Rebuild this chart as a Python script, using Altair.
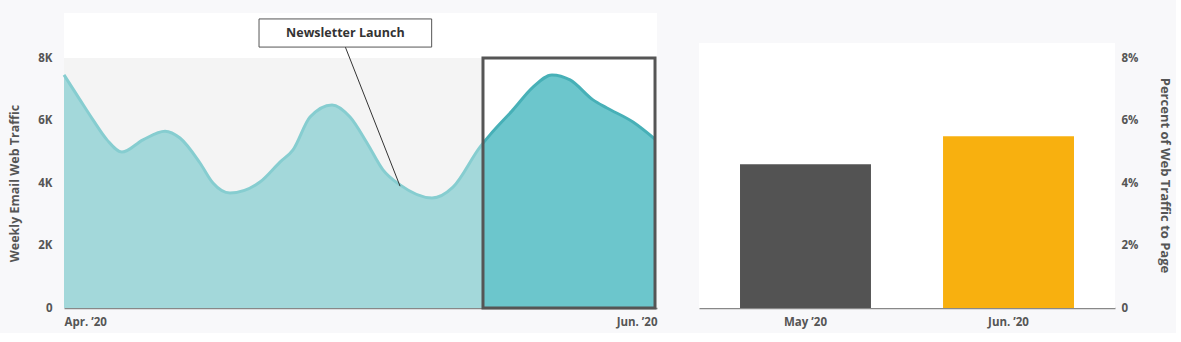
import altair as alt
import pandas as pd

# ---- data ----
days = [0, 2.43, 4.40, 6.53, 8.80, 11.99, 15.33, 17.60, 20.64, 22.61, 25.19, 29.74,
        32.78, 34.76, 37.34, 40.68, 43.41, 45.99, 48.41, 51.0, 55.85, 59.04, 63.13,
        64.65, 68.14, 71.18, 74.06, 76.8, 80.29, 82.41, 86.36, 89.7]
traffic = [7460, 6660, 6020, 5380, 4990, 5380, 5660, 5440, 4640, 4000, 3680, 4030,
           4670, 5060, 6110, 6500, 6110, 5280, 4420, 3940, 3520, 3870, 5150,
           5540, 6340, 7070, 7460, 7300, 6660, 6400, 5950, 5400]
highlight_start = 63.59
highlight_end = 89.7
x_labels = ["Apr. \u201920", "Jun. \u201920"]

months = ["May \u201920", "Jun. \u201920"]
percent = [4.6, 5.5]
bar_colors = ["#535353", "#f8b00f"]

annotation_text = "Newsletter Launch"
ann_box = dict(x=29.6, x2=55.8, y=8350, y2=9250)
ann_text_pos = dict(x=42.7, y=8800)
ann_pointer = dict(x=42.7, y=8350, x2=51.0, y2=3900)

FONT = "Open Sans"
GREY = "#555555"
BG = "#f8f8fa"

df = pd.DataFrame({"day": days, "traffic": traffic})
split = highlight_start / days[-1]

xs = alt.Scale(domain=[0, 90], nice=False, zero=False)
ys = alt.Scale(domain=[0, 9440], nice=False)

area_grad = alt.LinearGradient(
    gradient="linear", x1=0, x2=1, y1=0, y2=0,
    stops=[alt.GradientStop(offset=0, color="#a3d8da"),
           alt.GradientStop(offset=split, color="#a3d8da"),
           alt.GradientStop(offset=split, color="#6cc6cc"),
           alt.GradientStop(offset=1, color="#6cc6cc")])
line_grad = alt.LinearGradient(
    gradient="linear", x1=0, x2=1, y1=0, y2=0,
    stops=[alt.GradientStop(offset=0, color="#86cdd0"),
           alt.GradientStop(offset=split, color="#86cdd0"),
           alt.GradientStop(offset=split, color="#47b0b7"),
           alt.GradientStop(offset=1, color="#47b0b7")])

x_axis = alt.Axis(values=[0, 90], labelExpr=f"datum.value == 0 ? '{x_labels[0]}' : '{x_labels[1]}'",
                  labelFlush=True, title=None, ticks=False, grid=False, domain=True,
                  domainColor="#888888", domainWidth=1.5, labelFont=FONT, labelFontSize=11.5,
                  labelFontWeight="bold", labelColor=GREY, labelPadding=8)
y_axis = alt.Axis(values=[0, 2000, 4000, 6000, 8000],
                  labelExpr="datum.value == 0 ? '0' : (datum.value/1000) + 'K'",
                  title="Weekly Email Web Traffic", titleFont=FONT, titleFontSize=12.5,
                  titleFontWeight="bold", titleColor=GREY, titlePadding=16, titleY=170,
                  ticks=False, grid=False, domain=False, labelFont=FONT, labelFontSize=11.5,
                  labelFontWeight="bold", labelColor=GREY, labelPadding=12)

band_df = pd.DataFrame({"x": [0], "x2": [highlight_start], "y": [0], "y2": [8000]})
band = alt.Chart(band_df).mark_rect(color="#f4f4f4").encode(
    x=alt.X("x:Q", scale=xs, axis=x_axis), x2="x2:Q",
    y=alt.Y("y:Q", scale=ys, axis=y_axis), y2="y2:Q")

area = alt.Chart(df).mark_area(color=area_grad, interpolate="monotone").encode(
    x=alt.X("day:Q", scale=xs), y=alt.Y("traffic:Q", scale=ys))
line = alt.Chart(df).mark_line(stroke=line_grad, strokeWidth=3, interpolate="monotone").encode(
    x=alt.X("day:Q", scale=xs), y=alt.Y("traffic:Q", scale=ys))

box_df = pd.DataFrame({"x": [highlight_start], "x2": [highlight_end], "y": [0], "y2": [8000]})
box = alt.Chart(box_df).mark_rect(fillOpacity=0, stroke="#555555", strokeWidth=3).encode(
    x=alt.X("x:Q", scale=xs), x2="x2:Q", y=alt.Y("y:Q", scale=ys), y2="y2:Q")

ptr_df = pd.DataFrame([ann_pointer])
pointer = alt.Chart(ptr_df).mark_rule(color="#333333", strokeWidth=1).encode(
    x=alt.X("x:Q", scale=xs), x2="x2:Q", y=alt.Y("y:Q", scale=ys), y2="y2:Q")

abox_df = pd.DataFrame([ann_box])
abox = alt.Chart(abox_df).mark_rect(fill="white", stroke="#555555", strokeWidth=1).encode(
    x=alt.X("x:Q", scale=xs), x2="x2:Q", y=alt.Y("y:Q", scale=ys), y2="y2:Q")

atext_df = pd.DataFrame([dict(ann_text_pos, t=annotation_text)])
atext = alt.Chart(atext_df).mark_text(font=FONT, fontSize=12.5, fontWeight="bold",
                                      color="#333333", align="center", baseline="middle").encode(
    x=alt.X("x:Q", scale=xs), y=alt.Y("y:Q", scale=ys), text="t:N")

left = alt.layer(band, area, line, box, pointer, abox, atext).properties(
    width=593, height=295, view=alt.ViewBackground(fill="white", stroke=None))

# ---- right chart ----
bar_df = pd.DataFrame({"month": months, "percent": percent, "color": bar_colors})
ry = alt.Scale(domain=[0, 9.44], nice=False)
rx = alt.Scale(domain=months, paddingInner=0.355, paddingOuter=0.202)

r_y_axis = alt.Axis(orient="right", values=[0, 2, 4, 6, 8],
                    labelExpr="datum.value == 0 ? '0' : datum.value + '%'",
                    title="Percent of Web Traffic to Page", titleFont=FONT,
                    titleFontSize=13, titleFontWeight="bold", titleColor=GREY,
                    titlePadding=20, titleY=162, ticks=False, grid=False, domain=False,
                    labelFont=FONT, labelFontSize=11.5, labelFontWeight="bold",
                    labelColor=GREY, labelPadding=6)

white_df = pd.DataFrame({"y": [0], "y2": [8.48]})
white = alt.Chart(white_df).mark_rect(color="white").encode(
    y=alt.Y("y:Q", scale=ry, axis=r_y_axis), y2="y2:Q")

bars = alt.Chart(bar_df).mark_bar().encode(
    x=alt.X("month:N", scale=rx, sort=months,
            axis=alt.Axis(title=None, labelAngle=0, ticks=False, domain=True,
                          domainColor="#888888", domainWidth=1.5, labelFont=FONT,
                          labelFontSize=11.5, labelFontWeight="bold", labelColor=GREY,
                          labelPadding=8)),
    y=alt.Y("percent:Q", scale=ry),
    color=alt.Color("color:N", scale=None))

right = alt.layer(white, bars).properties(
    width=416, height=295, view=alt.ViewBackground(fill=BG, stroke=None))

chart = alt.hconcat(left, right, spacing=37).properties(
    background=BG, padding={"left": 8, "top": 13, "right": 5, "bottom": 5}
).configure_view(stroke=None)

chart.save("out.html", embed_options={"renderer": "svg", "actions": False})
